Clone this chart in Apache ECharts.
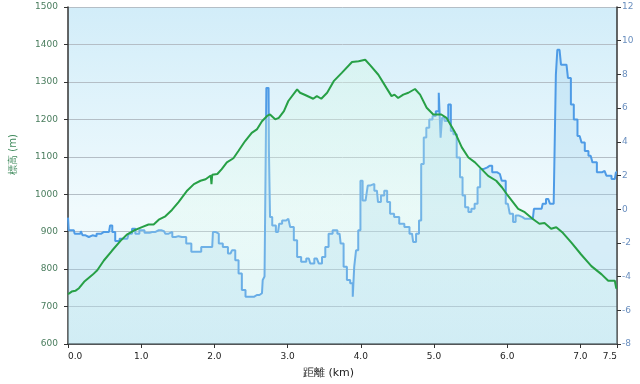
<!DOCTYPE html>
<html>
<head>
<meta charset="utf-8">
<script src="https://cdn.jsdelivr.net/npm/echarts@6.0.0/dist/echarts.min.js"></script>
<style>html,body{margin:0;padding:0;background:#fff}#c{width:640px;height:384px}</style>
</head>
<body>
<div id="c"></div>
<script>
// Elevation profile (green, left axis)
const elevDistKm = [0.00,0.05,0.10,0.15,0.22,0.33,0.40,0.49,0.60,0.72,0.81,0.90,1.01,1.10,1.17,1.24,1.33,1.42,1.51,1.63,1.72,1.81,1.88,1.95,1.96,1.97,2.04,2.10,2.17,2.26,2.33,2.42,2.51,2.58,2.65,2.72,2.76,2.83,2.88,2.95,3.01,3.13,3.17,3.24,3.35,3.40,3.46,3.54,3.63,3.74,3.88,3.97,4.06,4.13,4.24,4.35,4.42,4.46,4.51,4.58,4.65,4.74,4.81,4.90,4.99,5.10,5.17,5.29,5.38,5.47,5.56,5.65,5.74,5.85,5.93,6.01,6.15,6.24,6.35,6.44,6.51,6.60,6.67,6.76,6.88,7.01,7.15,7.29,7.38,7.47,7.49,7.50];
const elevM = [733,740,742,749,766,784,797,823,849,876,893,903,912,919,919,932,941,958,979,1010,1027,1036,1040,1050,1027,1052,1054,1067,1085,1096,1116,1142,1164,1173,1195,1209,1213,1200,1204,1222,1249,1280,1271,1265,1255,1262,1255,1271,1302,1324,1353,1355,1359,1344,1319,1284,1262,1266,1257,1266,1271,1281,1266,1231,1213,1213,1204,1164,1125,1098,1085,1067,1049,1036,1018,996,961,952,934,921,923,908,912,897,870,839,808,786,769,769,749,749];

// Second series (blue, right axis)
const blueDistKm = [0.00,0.02,0.08,0.10,0.17,0.18,0.22,0.26,0.31,0.36,0.42,0.49,0.56,0.59,0.62,0.67,0.74,0.81,0.85,0.90,0.94,1.01,1.08,1.15,1.24,1.31,1.35,1.40,1.45,1.49,1.53,1.58,1.65,1.72,1.79,1.85,1.97,1.99,2.04,2.08,2.15,2.22,2.26,2.31,2.35,2.40,2.45,2.51,2.58,2.65,2.67,2.70,2.72,2.74,2.75,2.77,2.81,2.87,2.90,2.95,3.01,3.06,3.11,3.15,3.22,3.29,3.33,3.40,3.45,3.49,3.54,3.58,3.65,3.71,3.74,3.79,3.83,3.88,3.90,3.92,3.95,3.98,4.01,4.04,4.09,4.10,4.15,4.22,4.25,4.30,4.34,4.38,4.42,4.49,4.56,4.63,4.70,4.73,4.78,4.81,4.84,4.88,4.91,4.96,5.00,5.05,5.08,5.10,5.12,5.17,5.22,5.24,5.29,5.33,5.38,5.40,5.45,5.49,5.53,5.58,5.61,5.65,5.70,5.76,5.83,5.90,5.95,6.01,6.06,6.10,6.13,6.18,6.24,6.35,6.38,6.47,6.50,6.56,6.61,6.66,6.67,6.70,6.73,6.74,6.81,6.85,6.89,6.93,6.99,7.04,7.08,7.14,7.19,7.26,7.33,7.38,7.47,7.50];
const blueVal = [-0.5,-1.25,-1.25,-1.45,-1.45,-1.3,-1.55,-1.65,-1.55,-1.6,-1.45,-1.35,-1.35,-0.96,-1.35,-1.88,-1.75,-1.75,-1.45,-1.16,-1.45,-1.25,-1.4,-1.35,-1.25,-1.3,-1.45,-1.35,-1.65,-1.6,-1.65,-1.65,-2.04,-2.53,-2.53,-2.24,-2.24,-1.35,-1.45,-2.04,-2.24,-2.63,-2.44,-3.03,-3.81,-4.8,-5.19,-5.19,-5.09,-4.99,-4.2,-4.0,7.2,7.2,3.46,-0.47,-0.96,-1.35,-0.86,-0.67,-0.57,-1.06,-1.85,-2.83,-3.12,-2.93,-3.22,-2.93,-3.22,-2.83,-2.24,-1.45,-1.25,-1.45,-2.04,-3.42,-4.2,-4.4,-5.19,-3.42,-2.44,-1.25,1.69,0.51,0.5,1.4,1.5,1.1,0.42,0.81,1.1,0.42,-0.27,-0.47,-0.86,-1.06,-1.45,-1.94,-1.45,-0.67,2.68,4.25,4.84,5.33,5.53,5.82,6.91,4.25,5.43,5.23,6.22,4.64,4.45,3.07,1.89,0.81,0.12,-0.17,0.02,0.32,1.3,2.38,2.48,2.58,2.19,2.09,1.69,0.32,-0.27,-0.76,-0.37,-0.47,-0.57,-0.57,0.02,0.02,0.32,0.61,0.32,0.32,7.99,9.46,9.46,8.58,8.58,7.79,6.22,5.33,4.35,3.96,3.46,3.17,2.78,2.19,2.28,1.99,1.79,2.19];

const xTitle = '距離 (km)';
const yTitle = '標高 (m)';

const chart = echarts.init(document.getElementById('c'), null, {renderer: 'canvas'});
const font = 'DejaVu Sans';
chart.setOption({
  animation: false,
  grid: {
    left: 66, right: 23, top: 7, bottom: 38, show: true, borderWidth: 0,
    backgroundColor: {type: 'linear', x: 0, y: 0, x2: 0, y2: 1, colorStops: [
      {offset: 0, color: '#d2edf9'}, {offset: 0.6, color: '#f0fafd'}, {offset: 1, color: '#e6f6fb'}]}
  },
  xAxis: {
    type: 'value', min: 0, max: 7.5, interval: 1,
    name: xTitle, nameLocation: 'middle', nameGap: 24,
    nameTextStyle: {color: '#222', fontFamily: font, fontSize: 11, padding: [0, 28, 0, 0]},
    axisLine: {onZero: false, lineStyle: {color: '#333', width: 1.5}},
    axisTick: {show: true, length: 4, lineStyle: {color: '#333'}},
    axisLabel: {color: '#222', fontFamily: font, fontSize: 9, margin: 8,
      formatter: v => v.toFixed(1), showMaxLabel: true, showMinLabel: true,
      alignMinLabel: 'left', alignMaxLabel: 'right'},
    splitLine: {show: false}
  },
  yAxis: [{
    type: 'value', min: 600, max: 1500, interval: 100,
    name: yTitle, nameLocation: 'middle', nameGap: 50, nameRotate: 90,
    nameTextStyle: {color: '#3f8a5c', fontFamily: font, fontSize: 10, padding: [0, 0, 0, 42]},
    axisLine: {show: true, onZero: false, lineStyle: {color: '#333', width: 1.5}},
    axisTick: {show: true, length: 4, lineStyle: {color: '#333'}},
    axisLabel: {color: '#4a7d5e', fontFamily: font, fontSize: 9, margin: 10, formatter: v => String(v)},
    splitLine: {show: true, lineStyle: {color: '#b4bec6', width: 1}}
  }, {
    type: 'value', min: -8, max: 12, interval: 2, position: 'right',
    axisLine: {show: true, onZero: false, lineStyle: {color: '#333', width: 1.5}},
    axisTick: {show: true, length: 4, lineStyle: {color: '#333'}},
    axisLabel: {color: '#6a8fbf', fontFamily: font, fontSize: 9, margin: 5, formatter: v => String(v)},
    splitLine: {show: false}
  }],
  series: [{
    type: 'line', yAxisIndex: 1, symbol: 'none', step: 'middle',
    data: blueDistKm.map((d, i) => [d, blueVal[i]]),
    lineStyle: {color: '#4e9be6', width: 2},
    areaStyle: {origin: 'start', color: 'rgba(150,205,238,0.38)'},
    z: 2
  }, {
    type: 'line', yAxisIndex: 0, symbol: 'none',
    data: elevDistKm.map((d, i) => [d, elevM[i]]),
    lineStyle: {color: '#27a046', width: 2},
    areaStyle: {origin: 'start', color: {type: 'linear', x: 0, y: 0, x2: 0, y2: 1, colorStops: [
      {offset: 0, color: 'rgba(215,248,232,0.6)'}, {offset: 1, color: 'rgba(215,248,232,0.2)'}]}},
    z: 3
  }]
});
</script>
</body>
</html>
